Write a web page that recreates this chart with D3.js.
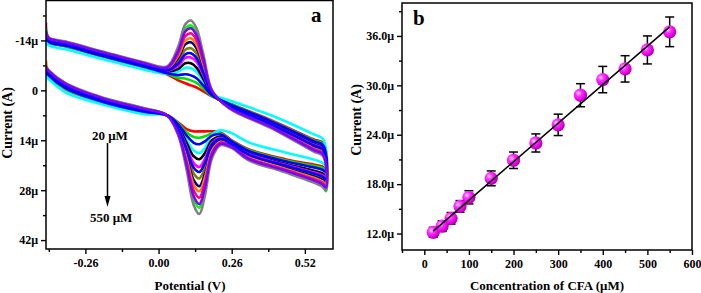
<!DOCTYPE html>
<meta charset="utf-8">
<style>
body { margin: 0; background: #fff; }
text { font-family: "Liberation Serif", "Times New Roman", serif; font-weight: bold; }
.tick text { font-size: 12px; }
.axis path, .axis line { stroke: #000; stroke-width: 1.4px; }
.title { font-size: 13px; }
</style>
<body>
<script src="https://d3js.org/d3.v7.min.js"></script>
<script>

// ---------- panel a : cyclic voltammograms ----------
const concLabels = [20, 40, 60, 80, 100, 150, 200, 250, 300, 350, 400, 450, 500, 550];
const curveColors = ["#ff0000", "#00e000", "#0000ff", "#00ffff", "#000000", "#ff00ff", "#0000ff",
                     "#808000", "#000080", "#ff8000", "#ff0080", "#8000ff", "#00ff00", "#808080"];
// order in which the curves are stacked (last on top)
const drawOrder = [0, 1, 3, 4, 5, 7, 8, 9, 10, 12, 13, 2, 6, 11];

// potential grid (V): forward scan, then reverse scan
const potUpper = [-0.40, -0.39, -0.33, -0.20, -0.05, 0.03, 0.07, 0.095, 0.115, 0.135, 0.16, 0.19, 0.25, 0.40, 0.55, 0.585];
const potLower = [0.595, 0.58, 0.45, 0.32, 0.26, 0.22, 0.19, 0.165, 0.145, 0.125, 0.10, 0.07, 0.03, -0.05, -0.20, -0.33, -0.39, -0.40];

// current (µA), one row per concentration
const cvUpper = [
  [-14.6, -13.4, -12.3, -9.5, -6.4, -4.5, -2.8, -2.0, -1.4, -0.8, 0.3, 1.7, 3.6, 8.4, 13.7, 14.8],
  [-14.8, -13.5, -12.4, -9.6, -6.5, -4.7, -3.5, -3.3, -2.8, -2.1, -0.5, 1.6, 3.7, 8.6, 14.0, 15.1],
  [-14.9, -13.6, -12.5, -9.7, -6.6, -4.8, -4.3, -4.5, -4.2, -3.4, -1.3, 1.4, 3.8, 8.7, 14.2, 15.4],
  [-13.8, -12.6, -11.5, -8.8, -5.8, -4.6, -5.3, -6.3, -6.2, -5.2, -2.4, 1.0, 2.8, 7.0, 12.3, 13.7],
  [-15.3, -13.9, -12.8, -10.0, -6.9, -5.2, -6.0, -7.6, -7.6, -6.4, -3.1, 1.1, 4.1, 9.1, 14.9, 16.1],
  [-15.6, -14.0, -12.9, -10.1, -7.0, -5.5, -6.9, -9.1, -9.2, -8.0, -4.1, 1.0, 4.2, 9.4, 15.2, 16.4],
  [-15.7, -14.1, -13.0, -10.2, -7.1, -5.6, -7.5, -10.1, -10.4, -9.0, -4.7, 0.9, 4.3, 9.5, 15.4, 16.6],
  [-15.9, -14.2, -13.1, -10.3, -7.2, -5.8, -8.2, -11.4, -11.8, -10.3, -5.5, 0.7, 4.4, 9.7, 15.6, 16.9],
  [-16.1, -14.3, -13.2, -10.4, -7.3, -6.0, -9.1, -12.9, -13.5, -11.8, -6.4, 0.6, 4.5, 9.9, 16.0, 17.3],
  [-16.2, -14.4, -13.3, -10.5, -7.4, -6.1, -9.7, -13.9, -14.6, -12.8, -7.0, 0.5, 4.6, 10.0, 16.2, 17.5],
  [-19.0, -14.5, -13.4, -10.6, -7.5, -6.3, -10.4, -15.2, -16.0, -14.1, -7.8, 0.3, 4.7, 10.2, 16.4, 17.8],
  [-16.5, -14.6, -13.5, -10.7, -7.6, -6.4, -11.1, -16.5, -17.4, -15.4, -8.6, 0.2, 4.8, 10.3, 16.7, 18.0],
  [-17.5, -14.7, -13.6, -10.8, -7.7, -6.5, -11.6, -17.2, -18.2, -16.1, -9.0, 0.1, 4.9, 10.4, 16.8, 18.2],
  [-16.8, -14.8, -13.7, -10.9, -7.8, -6.7, -12.3, -18.5, -19.6, -17.4, -9.8, 0.0, 5.0, 10.6, 17.1, 18.5]
];
const cvLower = [
  [21.8, 21.3, 19.3, 16.5, 14.0, 11.8, 11.5, 11.5, 11.5, 11.5, 10.9, 9.0, 7.0, 6.2, 3.4, -0.3, -3.9, -5.0],
  [22.3, 21.7, 19.6, 16.7, 14.2, 12.1, 12.1, 12.9, 13.3, 13.1, 11.8, 9.3, 7.0, 6.1, 3.3, -0.4, -4.0, -5.1],
  [22.8, 22.2, 19.9, 17.0, 14.3, 12.4, 12.7, 14.3, 15.1, 14.7, 12.7, 9.6, 7.0, 6.0, 3.2, -0.6, -4.2, -5.3],
  [21.3, 20.2, 17.4, 14.6, 12.0, 11.2, 12.4, 16.2, 17.6, 16.9, 13.9, 9.9, 7.0, 6.7, 3.9, 0.6, -3.1, -3.9],
  [23.9, 23.2, 20.6, 17.6, 14.7, 13.0, 14.0, 17.6, 19.3, 18.5, 14.8, 10.2, 7.0, 5.8, 2.9, -0.9, -4.5, -5.6],
  [24.5, 23.7, 20.9, 17.8, 15.0, 13.4, 14.7, 19.2, 21.5, 20.4, 15.9, 10.6, 7.0, 5.7, 2.8, -1.0, -4.6, -5.7],
  [24.9, 24.1, 21.1, 18.0, 15.1, 13.6, 15.2, 20.3, 22.9, 21.7, 16.6, 10.8, 7.0, 5.6, 2.7, -1.1, -4.7, -5.8],
  [25.3, 24.5, 21.4, 18.3, 15.3, 13.9, 15.8, 21.7, 24.7, 23.3, 17.4, 11.1, 7.0, 5.5, 2.6, -1.3, -4.9, -6.0],
  [25.9, 25.0, 21.8, 18.6, 15.5, 14.2, 16.5, 23.4, 26.9, 25.2, 18.5, 11.4, 7.0, 5.4, 2.5, -1.4, -5.0, -6.1],
  [26.3, 25.4, 22.0, 18.7, 15.6, 14.4, 16.9, 24.4, 28.3, 26.5, 19.2, 11.6, 7.0, 5.3, 2.4, -1.5, -5.1, -8.4],
  [26.8, 25.8, 22.3, 19.0, 15.8, 14.7, 17.5, 25.8, 30.1, 28.1, 20.1, 11.9, 7.0, 5.2, 2.3, -1.7, -5.3, -6.4],
  [27.2, 26.2, 22.5, 19.2, 15.9, 15.0, 18.1, 27.2, 31.9, 29.7, 21.0, 12.2, 7.0, 5.2, 2.2, -1.8, -5.4, -6.5],
  [28.3, 26.5, 22.7, 19.4, 16.0, 15.1, 18.4, 28.0, 32.9, 30.6, 21.5, 12.3, 7.0, 5.1, 2.1, -1.9, -5.5, -6.6],
  [28.0, 26.9, 23.0, 19.6, 16.2, 15.4, 19.0, 29.4, 34.7, 32.2, 22.4, 12.6, 7.0, 5.0, 2.0, -2.0, -5.6, -6.7]
];

const potTicks = [-0.26, 0, 0.26, 0.52],
      potMinor = [-0.39, -0.13, 0.13, 0.39],
      curTicksA = [-14, 0, 14, 28, 42],
      curMinorA = [-21, -7, 7, 21, 35];

// ---------- panel b : calibration ----------
const conc = [20, 40, 60, 80, 100, 150, 200, 250, 300, 350, 400, 450, 500, 550];
const peakCurrent = [12.15, 12.9, 13.85, 15.3, 16.4, 18.7, 20.9, 23.0, 25.2, 28.8, 30.7, 32.0, 34.3, 36.5];
const errBar = [0.6, 0.65, 0.7, 0.7, 0.8, 0.9, 1.0, 1.1, 1.3, 1.4, 1.6, 1.6, 1.7, 1.8];
const fitX = [20, 550],
      fitY = [12.3, 37.1];
const concTicks = [0, 100, 200, 300, 400, 500, 600],
      concMinor = [-50, 50, 150, 250, 350, 450, 550],
      curTicksB = [12, 18, 24, 30, 36],
      curMinorB = [15, 21, 27, 33, 39];

const width = 701, height = 293;

let svg = d3.select("body").append("svg")
            .attr("width", width)
            .attr("height", height);

let defs = svg.append("defs");
let grad = defs.append("radialGradient")
    .attr("id", "ball")
    .attr("cx", "35%").attr("cy", "35%").attr("r", "65%");
grad.append("stop").attr("offset", "0%").attr("stop-color", "#ffd6ff");
grad.append("stop").attr("offset", "35%").attr("stop-color", "#ff33ff");
grad.append("stop").attr("offset", "80%").attr("stop-color", "#e000e0");
grad.append("stop").attr("offset", "100%").attr("stop-color", "#b000b0");

// ===== panel a =====
let xA = d3.scaleLinear().domain([-0.4, 0.62]).range([46, 333]),
    yA = d3.scaleLinear().domain([-25.2, 44.5]).range([0.5, 249]);

defs.append("clipPath").attr("id", "clipA")
  .append("rect").attr("x", 46).attr("y", 0.5).attr("width", 287).attr("height", 248.5);

let line = d3.line()
    .x(d => xA(d[0]))
    .y(d => yA(d[1]))
    .curve(d3.curveCatmullRom.alpha(0.5));

let cvData = drawOrder.map(i => ({
    color: curveColors[i],
    pts: potUpper.map((e, j) => [e, cvUpper[i][j]])
           .concat(potLower.map((e, j) => [e, cvLower[i][j]]))
}));

svg.append("g")
    .attr("clip-path", "url(#clipA)")
  .selectAll("path")
  .data(cvData)
  .join("path")
    .attr("d", d => line(d.pts))
    .attr("fill", "none")
    .attr("stroke", d => d.color)
    .attr("stroke-width", 2.6)
    .attr("stroke-linejoin", "round");

function drawAxes(x, y, xt, xm, yt, ym, xfmt, yfmt) {
  let [x0, x1] = x.range(), [y1, y0] = y.range();
  let yb = Math.max(y0, y1), yt0 = Math.min(y0, y1);
  svg.append("g").attr("class", "axis")
      .attr("transform", `translate(0,${yb})`)
      .call(d3.axisBottom(x).tickValues(xt).tickSize(5).tickPadding(4).tickFormat(xfmt))
      .call(g => g.select(".domain").remove());
  svg.append("g").attr("class", "axis")
      .attr("transform", `translate(0,${yb})`)
      .call(d3.axisBottom(x).tickValues(xm).tickSize(3).tickFormat(""))
      .call(g => g.select(".domain").remove());
  svg.append("g").attr("class", "axis")
      .attr("transform", `translate(${x0},0)`)
      .call(d3.axisLeft(y).tickValues(yt).tickSize(5).tickPadding(3).tickFormat(yfmt))
      .call(g => g.select(".domain").remove());
  svg.append("g").attr("class", "axis")
      .attr("transform", `translate(${x0},0)`)
      .call(d3.axisLeft(y).tickValues(ym).tickSize(3).tickFormat(""))
      .call(g => g.select(".domain").remove());
  svg.selectAll(".tick text").attr("fill", "#000");
  svg.append("rect")
      .attr("x", x0).attr("y", yt0)
      .attr("width", x1 - x0).attr("height", yb - yt0)
      .attr("fill", "none").attr("stroke", "#000").attr("stroke-width", 1.5);
}

drawAxes(xA, yA, potTicks, potMinor, curTicksA, curMinorA,
         d => d.toFixed(2),
         d => d === 0 ? "0" : d + "μ");

svg.append("text").attr("class", "title")
    .attr("x", 190).attr("y", 290).attr("text-anchor", "middle")
    .text("Potential (V)");
svg.append("text")
    .attr("transform", "translate(12,123) rotate(-90)")
    .attr("text-anchor", "middle").attr("font-size", 14)
    .text("Current (A)");
svg.append("text").attr("x", 311).attr("y", 22).attr("font-size", 21).text("a");

svg.append("text").attr("x", 92).attr("y", 140).attr("font-size", 13).text("20 μM");
svg.append("text").attr("x", 90).attr("y", 222).attr("font-size", 13).text("550 μM");
svg.append("line")
    .attr("x1", 107.5).attr("x2", 107.5).attr("y1", 143).attr("y2", 198)
    .attr("stroke", "#000").attr("stroke-width", 1.5);
svg.append("path")
    .attr("d", "M104.5,196 L110.5,196 L107.5,207 Z")
    .attr("fill", "#000");

// ===== panel b =====
let xB = d3.scaleLinear().domain([-50, 600]).range([402, 692]),
    yB = d3.scaleLinear().domain([10, 40]).range([250, 3]);

drawAxes(xB, yB, concTicks, concMinor, curTicksB, curMinorB,
         d => d,
         d => d.toFixed(1) + "μ");

let pts = conc.map((c, i) => ({x: c, y: peakCurrent[i], e: errBar[i]}));

let eb = svg.append("g").attr("stroke", "#000").attr("stroke-width", 1.5);
eb.selectAll("line.v").data(pts).join("line")
    .attr("x1", d => xB(d.x)).attr("x2", d => xB(d.x))
    .attr("y1", d => yB(d.y - d.e)).attr("y2", d => yB(d.y + d.e));
eb.selectAll("line.t").data(pts).join("line")
    .attr("x1", d => xB(d.x) - 4.5).attr("x2", d => xB(d.x) + 4.5)
    .attr("y1", d => yB(d.y + d.e)).attr("y2", d => yB(d.y + d.e));
eb.selectAll("line.b").data(pts).join("line")
    .attr("x1", d => xB(d.x) - 4.5).attr("x2", d => xB(d.x) + 4.5)
    .attr("y1", d => yB(d.y - d.e)).attr("y2", d => yB(d.y - d.e));

svg.append("g").selectAll("circle").data(pts).join("circle")
    .attr("cx", d => xB(d.x)).attr("cy", d => yB(d.y))
    .attr("r", 6.6)
    .attr("fill", "url(#ball)");

svg.append("line")
    .attr("x1", xB(fitX[0])).attr("y1", yB(fitY[0]))
    .attr("x2", xB(fitX[1])).attr("y2", yB(fitY[1]))
    .attr("stroke", "#000").attr("stroke-width", 1.5);

svg.append("text").attr("class", "title")
    .attr("x", 547).attr("y", 290).attr("text-anchor", "middle")
    .text("Concentration of CFA (μM)");
svg.append("text")
    .attr("transform", "translate(361,120) rotate(-90)")
    .attr("text-anchor", "middle").attr("font-size", 14)
    .text("Current (A)");
svg.append("text").attr("x", 413).attr("y", 25).attr("font-size", 21).text("b");

</script>
